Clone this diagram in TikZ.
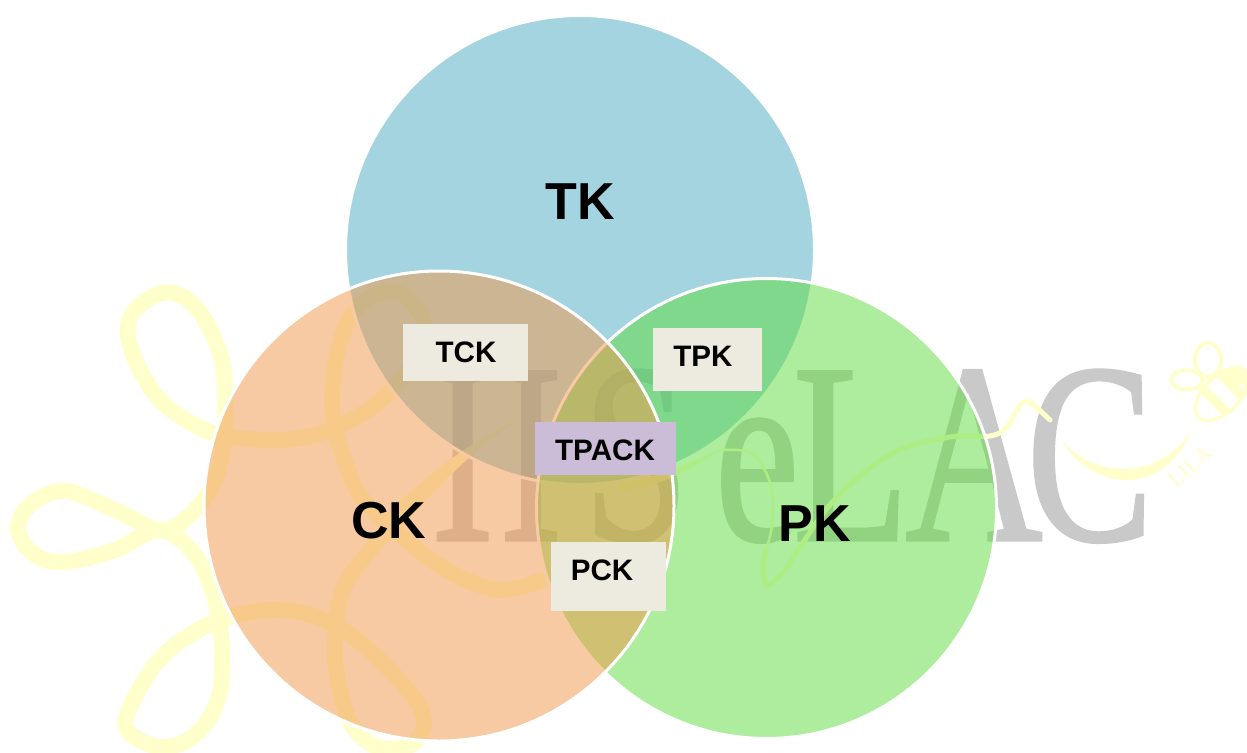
\documentclass[tikz,border=0pt]{standalone}
\usepackage{fontspec}
\setmainfont{Liberation Serif}
\setsansfont{Liberation Sans}
\newfontfamily\wmfont[FakeBold=1.2]{Liberation Serif}
\usetikzlibrary{calc}
\definecolor{wmgrey}{HTML}{C9C9C9}
\definecolor{wmyellow}{HTML}{FFFFCC}
\definecolor{tkc}{RGB}{75,171,193}
\definecolor{ckc}{RGB}{243,151,73}
\definecolor{pkc}{RGB}{93,221,61}
\definecolor{boxcream}{HTML}{EDEADF}
\definecolor{boxlilac}{HTML}{CBBDD8}
\tikzset{
  x=1pt,y=-1pt,
  wmletter/.style={inner sep=0pt,anchor=base,text=wmgrey,transform shape,xscale=.74,font=\wmfont\fontsize{257}{257}\selectfont},
  ribbon/.style={draw=wmyellow,line width=16pt,line join=round,line cap=round},
  hairribbon/.style={draw=wmyellow,line width=2.5pt,line join=round,line cap=round},
  thinribbon/.style={draw=wmyellow,line width=5pt,line join=round,line cap=round},
  vennc/.style={draw=white,line width=3pt,fill opacity=.5},
  biglabel/.style={inner sep=0pt,font=\sffamily\bfseries\fontsize{52}{52}\selectfont},
  smalllabel/.style={inner sep=0pt,font=\sffamily\bfseries\fontsize{29.6}{30}\selectfont},
}
\begin{document}
\begin{tikzpicture}
\useasboundingbox (0,0) rectangle (1247,752);
\clip (0,0) rectangle (1247,752);
\fill[white] (0,0) rectangle (1247,752);
% watermark letters
\node[wmletter] (wi1) at (462.5,540) {I};
\node[wmletter] (wi2) at (531,540) {I};
\node[wmletter] (ws) at (636,540) {S};
\node[wmletter] (we) at (757,540) {e};
\node[wmletter] (wl) at (851,540) {L};
\node[wmletter] (wa) at (974,540) {A};
\node[wmletter] (wc) at (1090,540) {C};
% watermark flower
\draw[ribbon] plot[smooth,tension=.6] coordinates {(225,395)(222,360)(205,320)(185,298)(162,293)(135,310)(128,335)(140,370)(165,405)(205,430)(240,438)(285,440)(330,430)(375,405)(408,370)(425,330)(410,300)(385,292)(355,310)(338,350)(332,400)(338,440)(360,495)(400,535)(450,572)(500,590)(542,580)};
\draw[ribbon] plot[smooth,tension=.6] coordinates {(225,395)(225,430)(215,480)(190,515)(160,530)(115,510)(65,491)(30,505)(18,530)(35,555)(65,562)(115,550)(160,530)(195,555)(215,600)(222,650)(218,700)(195,735)(163,747)(132,735)(127,715)(155,665)(190,635)(230,617)(283,610)(335,625)(385,665)(422,712)(415,742)(380,748)(352,725)(338,680)(335,640)(345,585)(385,533)};
\fill[wmyellow] (518,420) .. controls (470,440) and (420,480) .. (375,525) -- (392,540) .. controls (420,505) and (470,450) .. (518,420) -- cycle;
\fill[wmyellow] (620,491) .. controls (660,487) and (690,470) .. (720,450) .. controls (690,462) and (660,478) .. (620,483) -- cycle;
\draw[hairribbon] plot[smooth,tension=.6] coordinates {(720,450)(745,451)(760,462)(772,490)(772,525)(766,550)};
\draw[thinribbon] plot[smooth,tension=.6] coordinates {(766,550)(763,570)(768,585)(785,570)(800,547)(837,497)(893,453)(950,437)(990,436)(1007,427)(1018,408)(1027,401)(1037,408)(1050,420)};
% right smile
\fill[wmyellow] (1062,440) .. controls (1085,485) and (1160,505) .. (1192,430) .. controls (1160,480) and (1095,480) .. (1062,440) -- cycle;
\node[inner sep=0pt,rotate=42,text=wmyellow,font=\fontsize{22}{22}\selectfont] (lila) at (1190,466) {LILA};
% bee
\draw[wmyellow,line width=4pt] (1208,360) ellipse [x radius=13,y radius=17];
\draw[wmyellow,line width=4pt] (1187,380) ellipse [x radius=16,y radius=9.5];
\begin{scope}[shift={(1222,394)},rotate=45]
  \draw[wmyellow,line width=3.5pt] (0,0) ellipse [x radius=33,y radius=18];
  \begin{scope}
    \clip (0,0) ellipse [x radius=33,y radius=18];
    \fill[wmyellow] (-15,-20) rectangle (-5,20);
    \fill[wmyellow] (8,-20) rectangle (40,20);
    \fill[white] (19,9) circle [radius=2.5];
  \end{scope}
\end{scope}
% circles
\path[vennc,fill=tkc] (580,250) circle [radius=234.5];
\path[vennc,fill=pkc] (766.5,508.5) circle [radius=230];
\path[vennc,fill=ckc] (439,506) circle [radius=235];
% label boxes
\fill[boxcream] (403,324) rectangle (528,381);
\fill[boxcream] (653,328) rectangle (762,391);
\fill[boxcream] (551,542) rectangle (666,611);
\fill[boxlilac] (535,422) rectangle (676,475);
% labels
\node[biglabel] (tk) at (580,202) {TK};
\node[biglabel] (ck) at (389,521) {CK};
\node[biglabel] (pk) at (815,524) {PK};
\node[smalllabel] (tck) at (466,352.5) {TCK};
\node[smalllabel] (tpk) at (703,356.5) {TPK};
\node[smalllabel] (tpack) at (605,450.5) {TPACK};
\node[smalllabel] (pck) at (602,570.5) {PCK};
\end{tikzpicture}
\end{document}
